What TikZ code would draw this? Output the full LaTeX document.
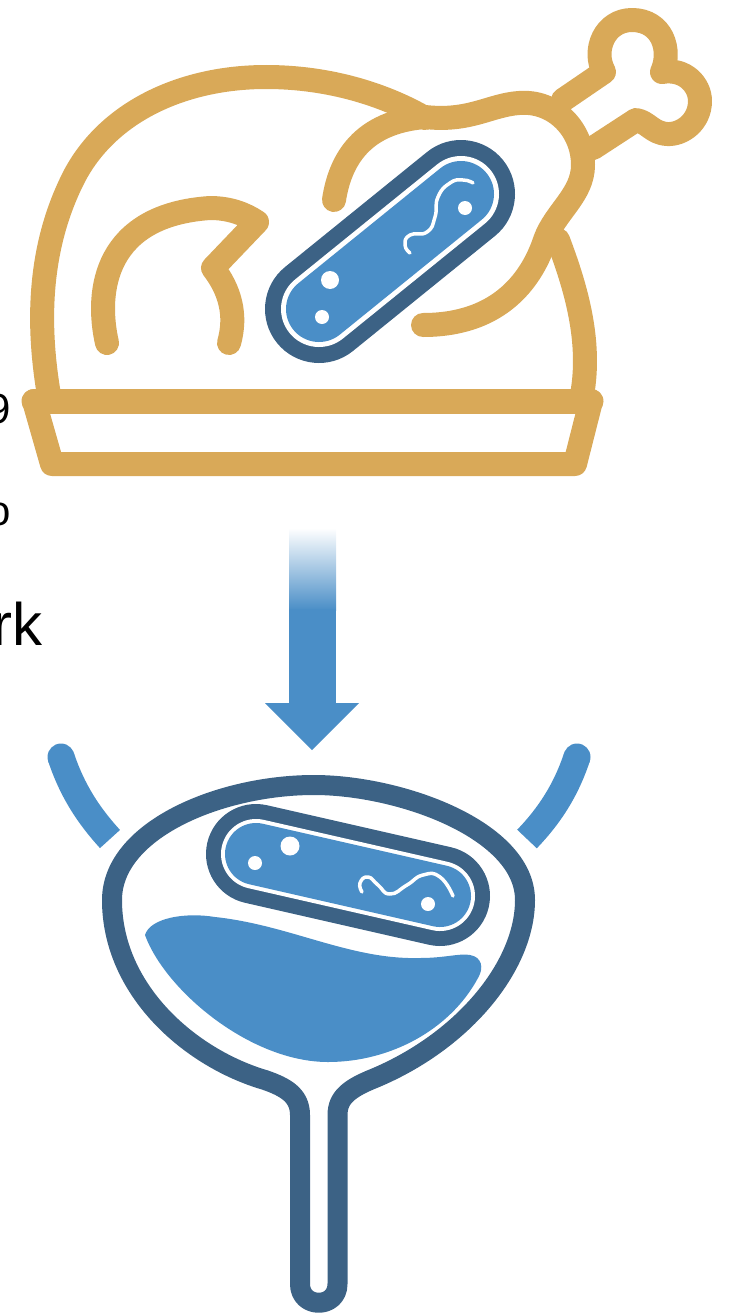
\documentclass[tikz,border=0pt]{standalone}
\usepackage{fontspec}
\setmainfont{Liberation Sans}
\definecolor{gold}{HTML}{D9A958}
\definecolor{deep}{HTML}{3C6285}
\definecolor{azure}{HTML}{4A8EC7}
\tikzset{
  goldline/.style={draw=gold,line width=24pt,line cap=round,line join=round},
  deepline/.style={draw=deep,line width=20pt,line cap=round,line join=round},
  spot/.style={fill=white,draw=none},
  flag/.style={draw=white,line width=3.5pt,line cap=round,line join=round},
  cut/.style={font=\fontsize{42}{42}\selectfont,text=black,inner sep=0pt,anchor=base east},
}
\begin{document}
\begin{tikzpicture}[x=1pt,y=-1pt]
\useasboundingbox (0,0) rectangle (728,1314);
% clipped text fragments
\node[cut] (t9) at (11,423) {9};
\node[cut] (to) at (11,525) {o};
\node[cut,font=\fontsize{60}{60}\selectfont] (trk) at (43,645) {rk};
\node[cut] (tn) at (3,820) {n};
% turkey body
\draw[goldline] (49,395) .. controls (38,330) and (36,250) .. (75,175) .. controls (110,110) and (185,77) .. (266,77) .. controls (330,77) and (385,95) .. (425,118);
\draw[goldline] (558,240) .. controls (575,285) and (592,340) .. (582,395);
% leg
\draw[goldline] (334,200) .. controls (340,160) and (362,122) .. (425,117) .. controls (470,122) and (490,105) .. (519,103) .. controls (555,100) and (583,130) .. (583,165) .. controls (583,195) and (555,212) .. (545,240) .. controls (530,285) and (495,325) .. (423,325);
% bone
\draw[goldline] (563,100) -- (604,72) .. controls (592,50) and (605,20) .. (632,20) .. controls (662,20) and (672,50) .. (662,72) .. controls (685,68) and (700,85) .. (700,101) .. controls (700,122) and (682,135) .. (667,134) .. controls (652,133) and (648,122) .. (636,120) -- (593,148);
% wing
\draw[goldline] (107,343) .. controls (95,290) and (105,215) .. (210,208) .. controls (230,208) and (245,214) .. (257,222) -- (213,268) .. controls (230,290) and (237,315) .. (229,343);
% tray
\draw[goldline,line width=25pt] (34,401) -- (591,401);
\draw[goldline] (34,401) -- (52,464) -- (575,464) -- (591,401);
% bacterium 1
\coordinate (a1) at (319,309);
\coordinate (a2) at (461,194);
\draw[line width=108pt,draw=deep,line cap=round] (a1) -- (a2);
\draw[line width=76pt,draw=white,line cap=round] (a1) -- (a2);
\draw[line width=66pt,draw=azure,line cap=round] (a1) -- (a2);
\fill[spot] (330,280) circle (9);
\fill[spot] (322,317) circle (7);
\fill[spot] (465,208) circle (7);
\draw[flag] plot[smooth,tension=0.9] coordinates {(410,253) (405,245) (410,235) (427,232) (435,217) (438,197) (450,183) (463,180) (473,183)};
% arrow
\shade[top color=white,bottom color=azure,shading angle=0] (289,528) rectangle (336,610);
\fill[azure] (289,609) rectangle (336,705);
\fill[azure] (265,703) -- (359,703) -- (312,750) -- cycle;
% bladder side marks
\draw[draw=azure,line width=27pt] (61,757) .. controls (72,790) and (88,815) .. (110,839);
\fill[azure] (61,757) circle (13.5);
\draw[draw=azure,line width=27pt] (577,757) .. controls (566,790) and (550,815) .. (527,839);
\fill[azure] (577,757) circle (13.5);
% urine
\fill[azure] (145,935) .. controls (150,918) and (185,912) .. (215,917) .. controls (290,925) and (350,960) .. (420,958) .. controls (445,958) and (460,953) .. (470,955) .. controls (482,957) and (484,968) .. (478,978) .. controls (450,1030) and (390,1062) .. (328,1062) .. controls (250,1062) and (165,990) .. (145,935) -- cycle;
% bladder
\draw[deepline] (300,1284) -- (300,1115) .. controls (300,1095) and (285,1087) .. (265,1080) .. controls (190,1058) and (112,990) .. (112,900) .. controls (112,830) and (220,785) .. (314,785) .. controls (400,785) and (525,830) .. (525,900) .. controls (525,965) and (465,1040) .. (375,1078) .. controls (350,1088) and (337.5,1097) .. (337.5,1115) -- (337.5,1284) .. controls (337.5,1309) and (300,1309) .. (300,1284) -- cycle;
% bacterium 2
\coordinate (b1) at (256,854);
\coordinate (b2) at (440,896);
\draw[line width=100pt,draw=deep,line cap=round] (b1) -- (b2);
\draw[line width=70pt,draw=white,line cap=round] (b1) -- (b2);
\draw[line width=62pt,draw=azure,line cap=round] (b1) -- (b2);
\fill[spot] (290,846) circle (9.5);
\fill[spot] (255,863) circle (7);
\fill[spot] (428,904) circle (7);
\draw[flag] plot[smooth,tension=0.9] coordinates {(362,892) (360,883) (368,877) (378,885) (390,894) (407,885) (423,875) (440,877) (453,896)};
\end{tikzpicture}
\end{document}
